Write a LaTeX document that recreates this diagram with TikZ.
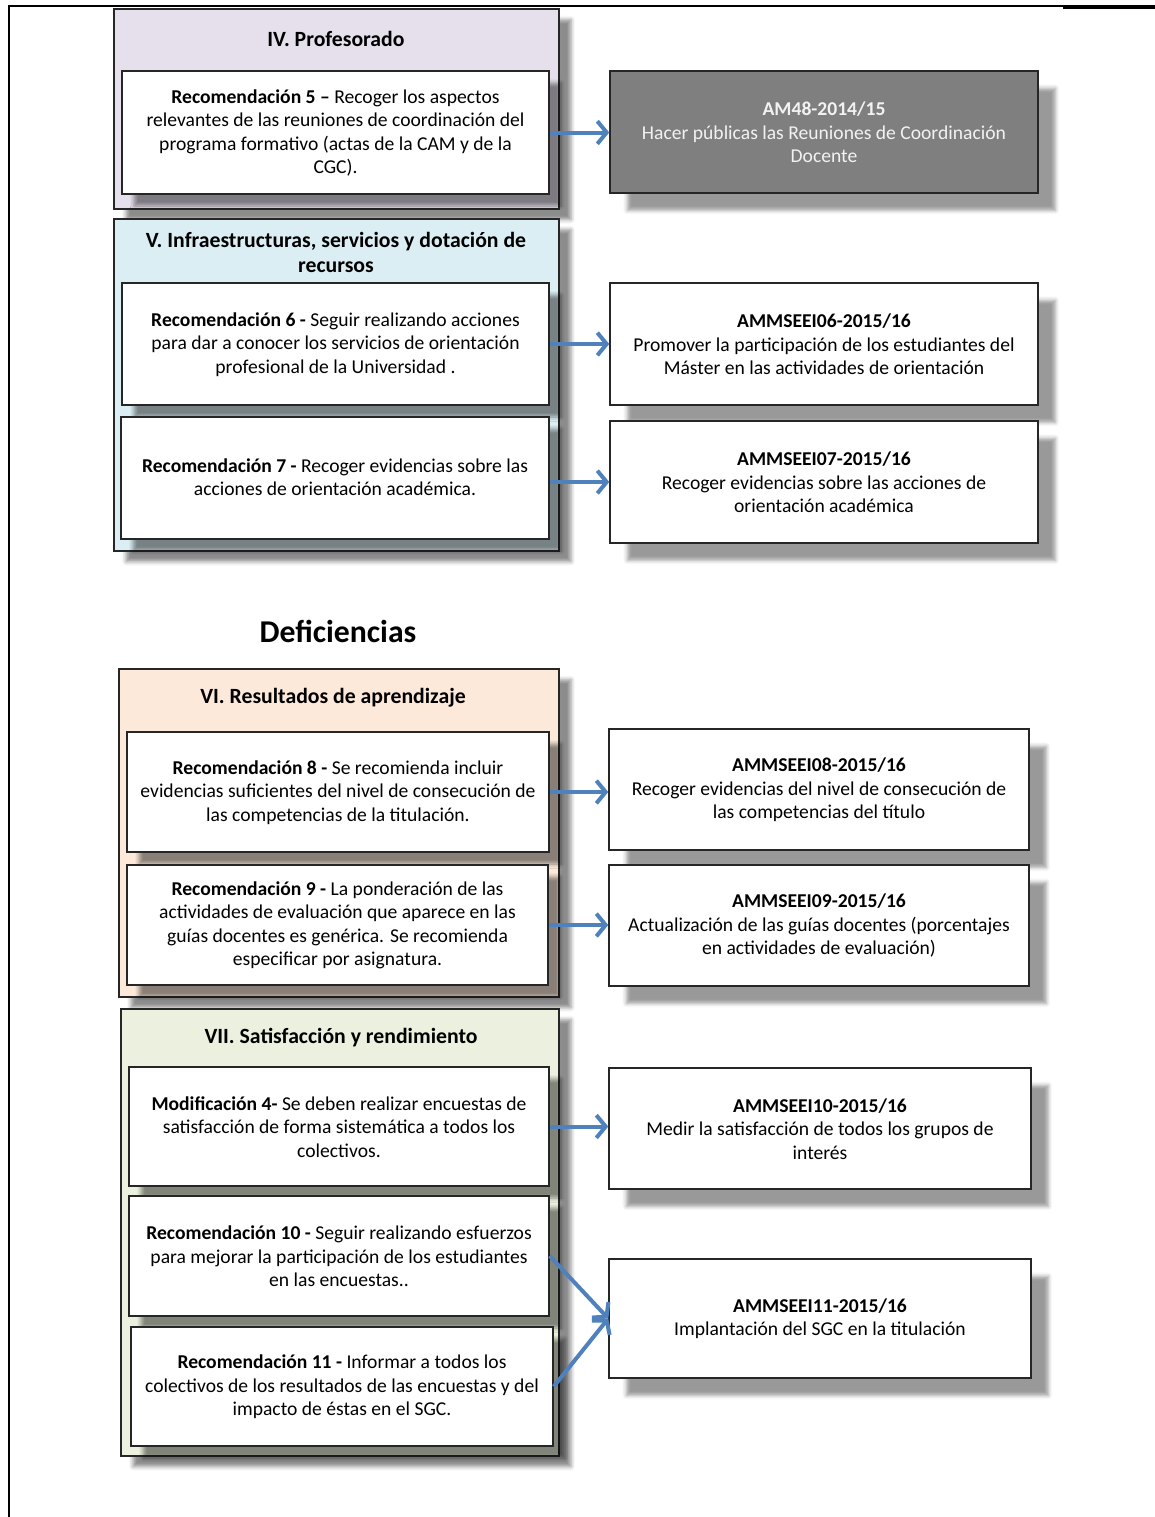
\documentclass[tikz,border=0pt]{standalone}
\usepackage{fontspec}
\setmainfont{Carlito}
\usetikzlibrary{fit,arrows.meta,shadows.blur}
\definecolor{lav}{HTML}{E5E0EC}
\definecolor{lblue}{HTML}{DBEEF4}
\definecolor{peach}{HTML}{FDE9D9}
\definecolor{lgreen}{HTML}{EBF1DE}
\definecolor{amgray}{HTML}{7F7F7F}
\definecolor{arrblue}{HTML}{4F81BD}
\begin{document}
\begin{tikzpicture}[x=0.75pt,y=-0.75pt,
  every node/.style={font=\fontsize{14.7pt}{17.6pt}\selectfont},
  grp/.style={draw=black!85, line width=1.6pt, inner sep=0pt,
    blur shadow={shadow xshift=9pt, shadow yshift=-8pt, shadow blur radius=3pt, shadow opacity=45}},
  inbox/.style={draw=black!85, line width=1.1pt, fill=white, inner sep=0pt,
    blur shadow={shadow xshift=9pt, shadow yshift=-9pt, shadow blur radius=3pt, shadow opacity=45}},
  outbox/.style={draw=black!85, line width=1.1pt, fill=white, inner sep=0pt,
    blur shadow={shadow xshift=13pt, shadow yshift=-13pt, shadow blur radius=3pt, shadow opacity=40}},
  txt/.style={align=center, inner sep=0pt},
  ttl/.style={font=\fontsize{16.3pt}{18.8pt}\selectfont\bfseries, align=center},
  arr/.style={draw=arrblue, line width=3pt, -{Straight Barb[length=7pt,width=17pt]}},
]
\useasboundingbox (0,0) rectangle (1155,1517);
% page frame
\draw[line width=2pt] (8,6) -- (107,6);
\draw[line width=1pt] (107,6) -- (1063,6);
\draw[line width=2.4pt] (1063,7) -- (1155,7);
\draw[line width=2pt] (9,6) -- (9,1517);

% ---------- IV ----------
\node[grp, fill=lav, fit={(114,9)(559,209)}] (g4) {};
\node[ttl] (t4) at (336,39) {IV. Profesorado};
\node[inbox, fit={(122,71)(549,194)}] (r5) {};
\node[txt] (r5t) at ([yshift=-0.3pt]r5.center) {\textbf{Recomendación 5 –} Recoger los aspectos\\relevantes de las reuniones de coordinación del\\programa formativo (actas de la CAM y de la\\CGC).};
\node[outbox, fill=amgray, fit={(610,71)(1038,193)}] (a48) {};
\node[txt, text=white!95!black] (a48t) at ([yshift=-0.3pt]a48.center) {\textbf{AM48-2014/15}\\Hacer públicas las Reuniones de Coordinación\\Docente};

% ---------- V ----------
\node[grp, fill=lblue, fit={(114,219)(559,551)}] (g5) {};
\node[ttl] (t5) at (336,252) {V. Infraestructuras, servicios y dotación de\\recursos};
\node[inbox, fit={(122,283)(549,405)}] (r6) {};
\node[txt] (r6t) at ([yshift=-0.3pt]r6.center) {\textbf{Recomendación 6 -} Seguir realizando acciones\\para dar a conocer los servicios de orientación\\profesional de la Universidad .};
\node[inbox, fit={(121,417)(549,539)}] (r7) {};
\node[txt] (r7t) at ([yshift=0.5pt]r7.center) {\textbf{Recomendación 7 -} Recoger evidencias sobre las\\acciones de orientación académica.};
\node[outbox, fit={(610,283)(1038,405)}] (a06) {};
\node[txt] (a06t) at ([yshift=-0.3pt]a06.center) {\textbf{AMMSEEI06-2015/16}\\Promover la participación de los estudiantes del\\Máster en las actividades de orientación};
\node[outbox, fit={(610,421)(1038,543)}] (a07) {};
\node[txt] (a07t) at ([yshift=-0.3pt]a07.center) {\textbf{AMMSEEI07-2015/16}\\Recoger evidencias sobre las acciones de\\orientación académica};

% ---------- Deficiencias ----------
\node[font=\fontsize{23.8pt}{28pt}\selectfont\bfseries] (def) at (338,631) {Deficiencias};

% ---------- VI ----------
\node[grp, fill=peach, fit={(119,669)(559,997)}] (g6) {};
\node[ttl] (t6) at (333,698) {VI. Resultados de aprendizaje};
\node[inbox, fit={(127,732)(549,852)}] (r8) {};
\node[txt] (r8t) at ([yshift=-0.3pt]r8.center) {\textbf{Recomendación 8 -} Se recomienda incluir\\evidencias suficientes del nivel de consecución de\\las competencias de la titulación.};
\node[inbox, fit={(127,865)(548,985)}] (r9) {};
\node[txt] (r9t) at ([yshift=-0.3pt]r9.center) {\textbf{Recomendación 9 -} La ponderación de las\\actividades de evaluación que aparece en las\\guías docentes es genérica. Se recomienda\\especificar por asignatura.};
\node[outbox, fit={(609,729)(1029,850)}] (a08) {};
\node[txt] (a08t) at ([yshift=-0.3pt]a08.center) {\textbf{AMMSEEI08-2015/16}\\Recoger evidencias del nivel de consecución de\\las competencias del título};
\node[outbox, fit={(609,865)(1029,986)}] (a09) {};
\node[txt] (a09t) at ([yshift=-0.3pt]a09.center) {\textbf{AMMSEEI09-2015/16}\\Actualización de las guías docentes (porcentajes\\en actividades de evaluación)};

% ---------- VII ----------
\node[grp, fill=lgreen, fit={(121,1009)(559,1456)}] (g7) {};
\node[ttl] (t7) at (341,1038) {VII. Satisfacción y rendimiento};
\node[inbox, fit={(129,1067)(549,1186)}] (m4) {};
\node[txt] (m4t) at ([yshift=-0.3pt]m4.center) {\textbf{Modificación 4-} Se deben realizar encuestas de\\satisfacción de forma sistemática a todos los\\colectivos.};
\node[inbox, fit={(129,1196)(549,1316)}] (r10) {};
\node[txt] (r10t) at ([yshift=-0.3pt]r10.center) {\textbf{Recomendación 10 -} Seguir realizando esfuerzos\\para mejorar la participación de los estudiantes\\en las encuestas..};
\node[inbox, fit={(131,1327)(553,1446)}] (r11) {};
\node[txt] (r11t) at ([yshift=-0.3pt]r11.center) {\textbf{Recomendación 11 -} Informar a todos los\\colectivos de los resultados de las encuestas y del\\impacto de éstas en el SGC.};
\node[outbox, fit={(609,1068)(1031,1189)}] (a10) {};
\node[txt] (a10t) at ([yshift=-0.3pt]a10.center) {\textbf{AMMSEEI10-2015/16}\\Medir la satisfacción de todos los grupos de\\interés};
\node[outbox, fit={(609,1259)(1031,1378)}] (a11) {};
\node[txt] (a11t) at ([yshift=-0.3pt]a11.center) {\textbf{AMMSEEI11-2015/16}\\Implantación del SGC en la titulación};

% ---------- arrows ----------
\draw[arr] (r5.east) -- (a48.west |- r5.east);
\draw[arr] (r6.east) -- (a06.west |- r6.east);
\draw[arr] (r7.east |- a07.west) -- (a07.west);
\draw[arr] (r8.east) -- (a08.west |- r8.east);
\draw[arr] (r9.east) -- (a09.west |- r9.east);
\draw[arr] (m4.east) -- (a10.west |- m4.east);
\draw[arr] (r10.east) -- (a11.west);
\draw[arr] (r11.east) -- (a11.west);
\end{tikzpicture}
\end{document}
